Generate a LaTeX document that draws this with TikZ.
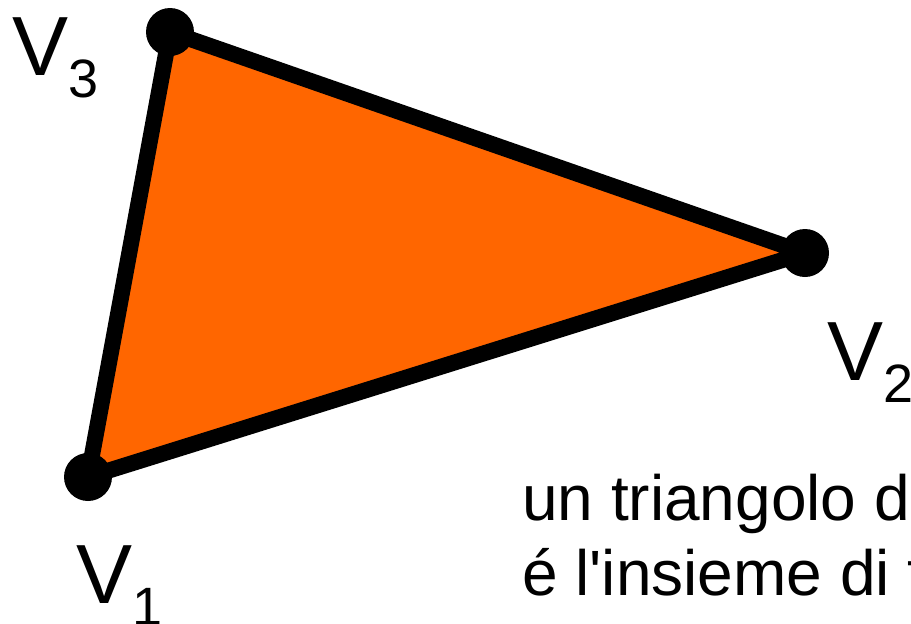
\documentclass[tikz,border=0pt]{standalone}
\usepackage{fontspec}
\setmainfont{Liberation Sans}[Ligatures=TeXOff]
\definecolor{tri}{HTML}{FF6600}
\begin{document}
\begin{tikzpicture}[x=1pt,y=-1pt,
  vdot/.style={circle,fill=black,minimum size=48pt,inner sep=0pt},
  lab/.style={anchor=base west,inner sep=0pt,font=\fontsize{84}{84}\selectfont},
  txt/.style={anchor=base west,inner sep=0pt,font=\fontsize{64}{72}\selectfont}]
\useasboundingbox (0,0) rectangle (911,624);
\clip (0,0) rectangle (911,624);
\coordinate (p1) at (88,477);
\coordinate (p2) at (805,253);
\coordinate (p3) at (170,32);
\draw[line width=16pt,line join=round,fill=tri] (p1) -- (p2) -- (p3) -- cycle;
\node[vdot] (d1) at (p1) {};
\node[vdot] (d2) at (p2) {};
\node[vdot] (d3) at (p3) {};
\node[lab] (l3) at (12,75) {V\raisebox{-22pt}{\fontsize{54}{54}\selectfont 3}};
\node[lab] (l1) at (76,603) {V\raisebox{-22pt}{\fontsize{54}{54}\selectfont 1}};
\node[lab] (l2) at (827,380) {V\raisebox{-22pt}{\fontsize{54}{54}\selectfont 2}};
\node[txt] (t1) at (522,520) {un triangolo di};
\node[txt] (t2) at (522,595) {é l'insieme di tutti};
\end{tikzpicture}
\end{document}
